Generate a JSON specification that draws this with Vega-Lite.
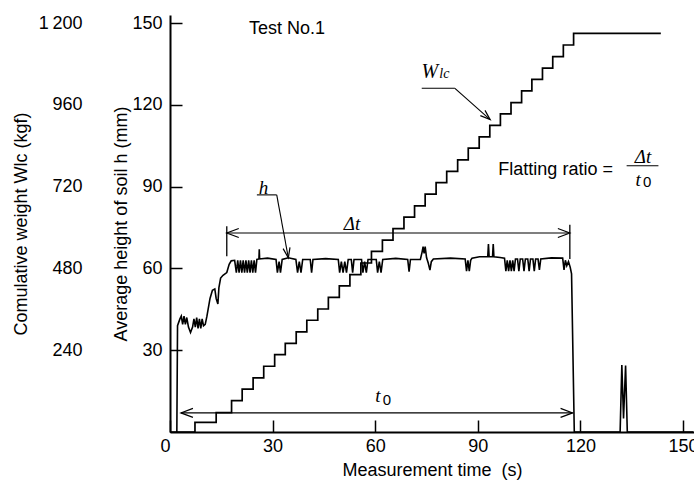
{
  "$schema": "https://vega.github.io/schema/vega-lite/v6.json",
  "width": 524,
  "height": 417,
  "autosize": "none",
  "padding": {"left": 170, "top": 15, "right": 0, "bottom": 49},
  "background": "#ffffff",
  "config": {
    "view": {"stroke": null},
    "axis": {
      "domainColor": "#000", "domainWidth": 2, "tickColor": "#000", "tickWidth": 1.5,
      "labelColor": "#000", "titleColor": "#000", "labelFont": "Liberation Sans", "titleFont": "Liberation Sans",
      "labelFontSize": 18, "titleFontSize": 18, "titleFontWeight": "normal", "grid": false, "labelOverlap": false
    }
  },
  "datasets": {
    "W": [
      {"t": 2, "W": 0}, {"t": 7.3, "W": 28}, {"t": 13.5, "W": 57}, {"t": 18.0, "W": 92},
      {"t": 21.1, "W": 126}, {"t": 24.3, "W": 159}, {"t": 27.4, "W": 193}, {"t": 30.6, "W": 227},
      {"t": 33.7, "W": 260}, {"t": 36.9, "W": 294}, {"t": 40.0, "W": 328}, {"t": 43.2, "W": 361},
      {"t": 46.3, "W": 395}, {"t": 49.5, "W": 429}, {"t": 52.6, "W": 462}, {"t": 55.8, "W": 496},
      {"t": 58.9, "W": 530}, {"t": 62.1, "W": 563}, {"t": 65.2, "W": 597}, {"t": 68.4, "W": 631},
      {"t": 71.5, "W": 664}, {"t": 74.6, "W": 698}, {"t": 77.8, "W": 732}, {"t": 80.9, "W": 765},
      {"t": 84.1, "W": 799}, {"t": 87.2, "W": 833}, {"t": 90.4, "W": 866}, {"t": 93.5, "W": 900},
      {"t": 96.6, "W": 934}, {"t": 99.7, "W": 967}, {"t": 102.8, "W": 1001}, {"t": 105.8, "W": 1035},
      {"t": 108.9, "W": 1068}, {"t": 111.9, "W": 1102}, {"t": 115.0, "W": 1136}, {"t": 118.0, "W": 1170},
      {"t": 143.5, "W": 1170}
    ],
    "h": [
      {"t": 0, "h": 0}, {"t": 2.0, "h": 0}, {"t": 2.2, "h": 39}, {"t": 2.9, "h": 41.5}, {"t": 3.3, "h": 42.5},
      {"t": 3.7, "h": 39.5}, {"t": 4.1, "h": 42.5}, {"t": 4.5, "h": 39.5}, {"t": 4.9, "h": 42}, {"t": 5.4, "h": 38.5},
      {"t": 6.0, "h": 36.5}, {"t": 6.6, "h": 38.5}, {"t": 7.0, "h": 41.5}, {"t": 7.4, "h": 38.5}, {"t": 7.8, "h": 42},
      {"t": 8.2, "h": 38}, {"t": 8.6, "h": 41.5}, {"t": 9.0, "h": 38}, {"t": 9.4, "h": 41.5}, {"t": 9.8, "h": 39},
      {"t": 10.3, "h": 39.5}, {"t": 10.8, "h": 42.5}, {"t": 11.7, "h": 49}, {"t": 12.4, "h": 52}, {"t": 13.1, "h": 52.5},
      {"t": 13.5, "h": 49}, {"t": 14.0, "h": 47}, {"t": 14.3, "h": 53}, {"t": 14.8, "h": 56.5}, {"t": 15.5, "h": 57.5},
      {"t": 16.6, "h": 58.5}, {"t": 17.3, "h": 61.5}, {"t": 17.9, "h": 62.8}, {"t": 18.9, "h": 63},
      {"t": 19.4, "h": 58.5}, {"t": 19.8, "h": 63}, {"t": 20.2, "h": 58.5}, {"t": 20.6, "h": 63}, {"t": 21.0, "h": 58.5},
      {"t": 21.4, "h": 63}, {"t": 21.8, "h": 58.5}, {"t": 22.2, "h": 63}, {"t": 22.6, "h": 58.5}, {"t": 23.0, "h": 63},
      {"t": 23.4, "h": 58.5}, {"t": 23.8, "h": 63}, {"t": 24.2, "h": 58.5}, {"t": 24.6, "h": 63}, {"t": 25.0, "h": 58.5},
      {"t": 25.4, "h": 63.3}, {"t": 26.0, "h": 63.5}, {"t": 26.1, "h": 67}, {"t": 26.2, "h": 63.5}, {"t": 28.5, "h": 63.8},
      {"t": 31.0, "h": 63.3}, {"t": 31.4, "h": 58.5}, {"t": 31.9, "h": 62.5}, {"t": 32.3, "h": 58.5}, {"t": 32.8, "h": 63.3},
      {"t": 34.6, "h": 63.9}, {"t": 36.8, "h": 63.3}, {"t": 37.3, "h": 58.5}, {"t": 37.8, "h": 62.5}, {"t": 38.3, "h": 58.5},
      {"t": 38.8, "h": 63.3}, {"t": 41.0, "h": 63.3}, {"t": 41.4, "h": 58.5}, {"t": 41.8, "h": 63.3}, {"t": 45.5, "h": 63.6},
      {"t": 49.2, "h": 63.3}, {"t": 49.6, "h": 58.5}, {"t": 50.1, "h": 62.5}, {"t": 50.6, "h": 58.5}, {"t": 51.1, "h": 62.5},
      {"t": 51.6, "h": 58.5}, {"t": 52.1, "h": 63.3}, {"t": 53.0, "h": 63.3}, {"t": 53.4, "h": 58.5}, {"t": 53.8, "h": 63.3},
      {"t": 56.0, "h": 63.3}, {"t": 56.4, "h": 58.5}, {"t": 56.9, "h": 62.5}, {"t": 57.4, "h": 58.5}, {"t": 57.9, "h": 63.3},
      {"t": 60.3, "h": 63.3}, {"t": 60.7, "h": 58.5}, {"t": 61.2, "h": 62.5}, {"t": 61.7, "h": 58.5}, {"t": 62.2, "h": 63.3},
      {"t": 66.0, "h": 63.7}, {"t": 69.5, "h": 63.3}, {"t": 69.9, "h": 58.8}, {"t": 70.3, "h": 63.3}, {"t": 73.2, "h": 63.3},
      {"t": 73.7, "h": 66}, {"t": 74.0, "h": 68}, {"t": 74.3, "h": 65.5}, {"t": 74.6, "h": 68}, {"t": 75.0, "h": 64},
      {"t": 75.5, "h": 62}, {"t": 76.0, "h": 59.4}, {"t": 76.4, "h": 62.5}, {"t": 77.0, "h": 63.5}, {"t": 82.0, "h": 63.8},
      {"t": 86.3, "h": 63.5}, {"t": 86.7, "h": 59}, {"t": 87.1, "h": 63}, {"t": 87.5, "h": 59}, {"t": 87.9, "h": 63},
      {"t": 88.3, "h": 63.8}, {"t": 90.5, "h": 64.3}, {"t": 92.9, "h": 64.3}, {"t": 93.1, "h": 69}, {"t": 93.3, "h": 64.3},
      {"t": 94.3, "h": 64.3}, {"t": 94.5, "h": 69}, {"t": 94.7, "h": 64.3}, {"t": 96.5, "h": 64}, {"t": 97.8, "h": 63.8},
      {"t": 98.2, "h": 59}, {"t": 98.6, "h": 63}, {"t": 99.0, "h": 59}, {"t": 99.4, "h": 63}, {"t": 99.8, "h": 59},
      {"t": 100.2, "h": 63}, {"t": 100.6, "h": 59}, {"t": 101.0, "h": 63.5}, {"t": 101.6, "h": 63.5}, {"t": 102.0, "h": 59},
      {"t": 102.4, "h": 63.5}, {"t": 103.1, "h": 63.5}, {"t": 103.5, "h": 59}, {"t": 103.9, "h": 63.5}, {"t": 104.6, "h": 63.5},
      {"t": 105.0, "h": 59}, {"t": 105.4, "h": 63.5}, {"t": 106.1, "h": 63.5}, {"t": 106.5, "h": 59}, {"t": 106.9, "h": 63.5},
      {"t": 107.6, "h": 63.5}, {"t": 108.0, "h": 59.5}, {"t": 108.4, "h": 63.5}, {"t": 111.5, "h": 63.9}, {"t": 114.8, "h": 63.8},
      {"t": 115.2, "h": 59.5}, {"t": 115.6, "h": 63}, {"t": 116.0, "h": 61}, {"t": 116.5, "h": 62.5}, {"t": 117.0, "h": 60.5},
      {"t": 117.4, "h": 58}, {"t": 118.2, "h": 0}, {"t": 131.6, "h": 0}, {"t": 132.1, "h": 24.6}, {"t": 132.6, "h": 5},
      {"t": 133.2, "h": 24.4}, {"t": 133.7, "h": 0}, {"t": 153, "h": 0}
    ],
    "spans": [
      {"t": 3.2, "t2": 117.7, "h": 7.0},
      {"t": 16.6, "t2": 116.9, "h": 73}
    ],
    "bars": [
      {"t": 16.6, "h": 64.5, "h2": 75.5},
      {"t": 116.9, "h": 63.5, "h2": 76}
    ],
    "leaders": [
      {"t": 73.6, "h": 126.1, "t2": 83.3, "h2": 126.1},
      {"t": 83.3, "h": 126.1, "t2": 93.6, "h2": 114.6},
      {"t": 25.4, "h": 87, "t2": 31.2, "h2": 87},
      {"t": 31.2, "h": 87, "t2": 34.6, "h2": 63.9},
      {"t": 133.5, "h": 97.7, "t2": 142.8, "h2": 97.7}
    ],
    "headsLeft": [{"t": 3.2, "h": 7.0}, {"t": 16.6, "h": 73}],
    "headsRight": [{"t": 117.7, "h": 7.0}, {"t": 116.9, "h": 73}],
    "headW": [{"t": 93.6, "h": 114.6}],
    "headH": [{"t": 34.6, "h": 63.9}],
    "sansText": [
      {"t": 23.1, "h": 146.1, "label": "Test No.1"},
      {"t": 96.0, "h": 94.3, "label": "Flatting ratio ="}
    ],
    "italic18": [
      {"t": 53.2, "h": 76.3, "label": "Δt"},
      {"t": 27.3, "h": 89.7, "label": "h"},
      {"t": 138.3, "h": 100.9, "label": "Δt"},
      {"t": 60.8, "h": 13.2, "label": "t"},
      {"t": 136.9, "h": 92.5, "label": "t"}
    ],
    "italicW": [{"t": 76.0, "h": 132.2, "label": "W"}],
    "italicSub": [{"t": 80.2, "h": 131.3, "label": "lc"}],
    "subZero": [{"t": 63.4, "h": 11.6, "label": "0"}, {"t": 139.5, "h": 91.6, "label": "0"}]
  },
  "encoding": {
    "x": {
      "field": "t", "type": "quantitative",
      "scale": {"domain": [0, 153.2], "nice": false, "zero": false},
      "axis": {
        "values": [0, 30, 60, 90, 120, 150], "tickSize": -12, "labelPadding": 17,
        "labelAlign": {"condition": {"test": "datum.value === 0", "value": "right"}, "value": "center"},
        "title": "Measurement time\u00a0 (s)", "titlePadding": 6
      }
    }
  },
  "layer": [
    {
      "data": {"name": "W"},
      "mark": {"type": "line", "interpolate": "step-after", "color": "#000", "strokeWidth": 1.7},
      "encoding": {
        "y": {
          "field": "W", "type": "quantitative",
          "scale": {"domain": [0, 1224], "nice": false},
          "axis": {
            "orient": "left", "offset": 80, "values": [240, 480, 720, 960, 1200], "domain": false, "ticks": false,
            "labelPadding": 8, "labelExpr": "datum.value === 1200 ? '1\u2009200' : datum.label",
            "title": "Comulative weight Wlc (kgf)", "titlePadding": 8
          }
        }
      }
    },
    {
      "encoding": {
        "y": {
          "field": "h", "type": "quantitative",
          "scale": {"domain": [0, 153], "nice": false},
          "axis": {
            "orient": "left", "values": [30, 60, 90, 120, 150], "tickSize": -12, "labelPadding": 20,
            "title": "Average height of soil h (mm)", "titlePadding": 1
          }
        }
      },
      "layer": [
        {
          "data": {"name": "h"},
          "mark": {"type": "line", "color": "#000", "strokeWidth": 1.6}
        },
        {
          "data": {"name": "spans"},
          "mark": {"type": "rule", "color": "#000", "strokeWidth": 1.1},
          "encoding": {"x2": {"field": "t2"}}
        },
        {
          "data": {"name": "bars"},
          "mark": {"type": "rule", "color": "#000", "strokeWidth": 1.3},
          "encoding": {"y2": {"field": "h2"}}
        },
        {
          "data": {"name": "leaders"},
          "mark": {"type": "rule", "color": "#000", "strokeWidth": 1.1},
          "encoding": {"x2": {"field": "t2"}, "y2": {"field": "h2"}}
        },
        {
          "data": {"name": "headsLeft"},
          "mark": {"type": "point", "shape": "M2,-0.75L0,0L2,0.75", "size": 144, "filled": false, "color": "#000", "strokeWidth": 1.2, "opacity": 1}
        },
        {
          "data": {"name": "headsRight"},
          "mark": {"type": "point", "shape": "M-2,-0.75L0,0L-2,0.75", "size": 144, "filled": false, "color": "#000", "strokeWidth": 1.2, "opacity": 1}
        },
        {
          "data": {"name": "headW"},
          "mark": {"type": "point", "shape": "M-2,-0.7L0,0L-2,0.7", "size": 100, "angle": 41.6, "filled": false, "color": "#000", "strokeWidth": 1.2, "opacity": 1}
        },
        {
          "data": {"name": "headH"},
          "mark": {"type": "point", "shape": "M-2,-0.7L0,0L-2,0.7", "size": 100, "angle": 79.6, "filled": false, "color": "#000", "strokeWidth": 1.2, "opacity": 1}
        },
        {
          "data": {"name": "sansText"},
          "mark": {"type": "text", "font": "Liberation Sans", "fontSize": 18, "align": "left", "baseline": "alphabetic", "color": "#000"},
          "encoding": {"text": {"field": "label"}}
        },
        {
          "data": {"name": "italic18"},
          "mark": {"type": "text", "font": "Liberation Serif", "fontStyle": "italic", "fontSize": 19, "align": "center", "baseline": "middle", "color": "#000"},
          "encoding": {"text": {"field": "label"}}
        },
        {
          "data": {"name": "italicW"},
          "mark": {"type": "text", "font": "Liberation Serif", "fontStyle": "italic", "fontSize": 20, "align": "center", "baseline": "middle", "color": "#000"},
          "encoding": {"text": {"field": "label"}}
        },
        {
          "data": {"name": "italicSub"},
          "mark": {"type": "text", "font": "Liberation Serif", "fontStyle": "italic", "fontSize": 14, "align": "center", "baseline": "middle", "color": "#000"},
          "encoding": {"text": {"field": "label"}}
        },
        {
          "data": {"name": "subZero"},
          "mark": {"type": "text", "font": "Liberation Sans", "fontSize": 15, "align": "center", "baseline": "middle", "color": "#000"},
          "encoding": {"text": {"field": "label"}}
        }
      ]
    }
  ],
  "resolve": {"scale": {"y": "independent"}, "axis": {"y": "independent"}}
}
